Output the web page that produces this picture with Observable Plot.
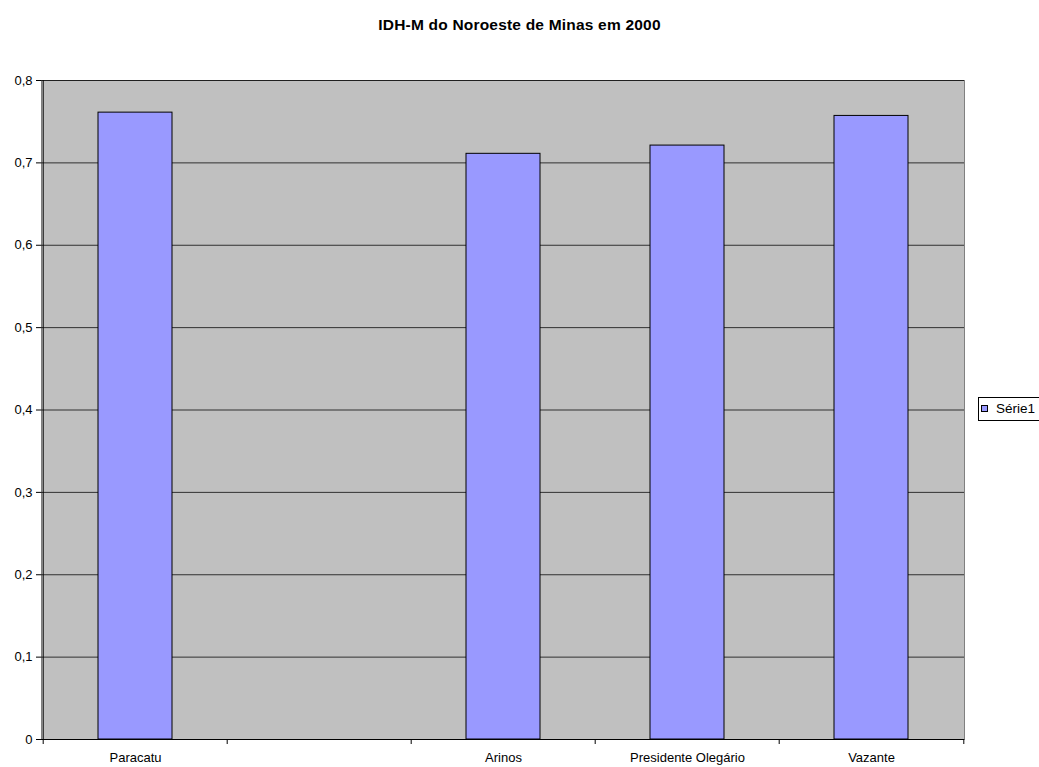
<!DOCTYPE html>
<html>
<head>
<meta charset="utf-8">
<script src="https://cdn.jsdelivr.net/npm/d3@7"></script>
<script src="https://cdn.jsdelivr.net/npm/@observablehq/plot@0.6"></script>
<style>
  html, body { margin: 0; padding: 0; background: #fff; }
  #chart { position: relative; width: 1039px; height: 767px; overflow: hidden; font-family: "Liberation Sans", Arial, sans-serif; }
  #title { position: absolute; left: 0; width: 1039px; top: 16px; text-align: center; font-weight: bold; font-size: 15.5px; letter-spacing: 0.2px; color: #000; }
  #legend { position: absolute; left: 978px; top: 397px; width: 70px; height: 24px; border: 1px solid #000; box-sizing: border-box; background: #fff; font-size: 13.5px; }
  #legend .sw { position: absolute; left: 2px; top: 7px; width: 7px; height: 7px; background: #9999ff; border: 1px solid #000; box-sizing: border-box; }
  #legend .lb { position: absolute; left: 17px; top: 3px; }
</style>
</head>
<body>
<div id="chart">
  <div id="title">IDH-M do Noroeste de Minas em 2000</div>
  <div id="legend"><span class="sw"></span><span class="lb">Série1</span></div>
</div>
<script>
// Municipalities on the category axis (one slot is left unnamed, as in the source sheet)
const categories = ["Paracatu", "", "Arinos", "Presidente Olegário", "Vazante"];
// IDH-M 2000 per municipality (null = no value)
const values = [0.761, null, 0.711, 0.721, 0.757];
const yTicks = [0, 0.1, 0.2, 0.3, 0.4, 0.5, 0.6, 0.7, 0.8];

const rows = categories.map((c, i) => ({category: c, value: values[i]}));
const bars = rows.filter(d => d.value != null);

const W = 1039, H = 767;
const mL = 41, mR = 75, mT = 80, mB = 28;
const step = (W - mL - mR) / categories.length;
const fmt = v => String(v).replace(".", ",");

const chart = Plot.plot({
  width: W,
  height: H,
  marginLeft: mL,
  marginRight: mR,
  marginTop: mT,
  marginBottom: mB,
  style: {fontFamily: "'Liberation Sans', Arial, sans-serif", fontSize: "13px", background: "transparent", color: "#000"},
  x: {type: "band", domain: categories, paddingInner: 0.6, paddingOuter: 0.3, label: null},
  y: {domain: [0, 0.8], label: null},
  marks: [
    // plot area
    Plot.frame({fill: "#c0c0c0", stroke: "#808080"}),
    // horizontal gridlines
    Plot.gridY(yTicks.slice(1), {stroke: "#000", strokeOpacity: 0.75, strokeWidth: 1}),
    // bars
    Plot.barY(bars, {x: "category", y: "value", fill: "#9999ff", stroke: "#000", strokeWidth: 1}),
    // y axis
    Plot.axisY(yTicks, {tickSize: 5, tickPadding: 4, tickFormat: fmt, stroke: "#000", fontSize: 13}),
    Plot.ruleX([categories[0]], {x: d => d, dx: -step / 2, y1: 0, y2: 0.8, stroke: "#000"}),
    // x axis line and labels
    Plot.ruleY([0], {stroke: "#000"}),
    Plot.axisX({tickSize: 0, tickPadding: 13, fontSize: 13}),
    // tick marks on the category boundaries
    Plot.ruleX(categories, {x: d => d, dx: -step / 2, y1: 0, y2: 0, insetBottom: -5, stroke: "#000"}),
    Plot.ruleX([categories[categories.length - 1]], {x: d => d, dx: step / 2, y1: 0, y2: 0, insetBottom: -5, stroke: "#000"})
  ]
});

document.getElementById("chart").prepend(chart);
</script>
</body>
</html>
